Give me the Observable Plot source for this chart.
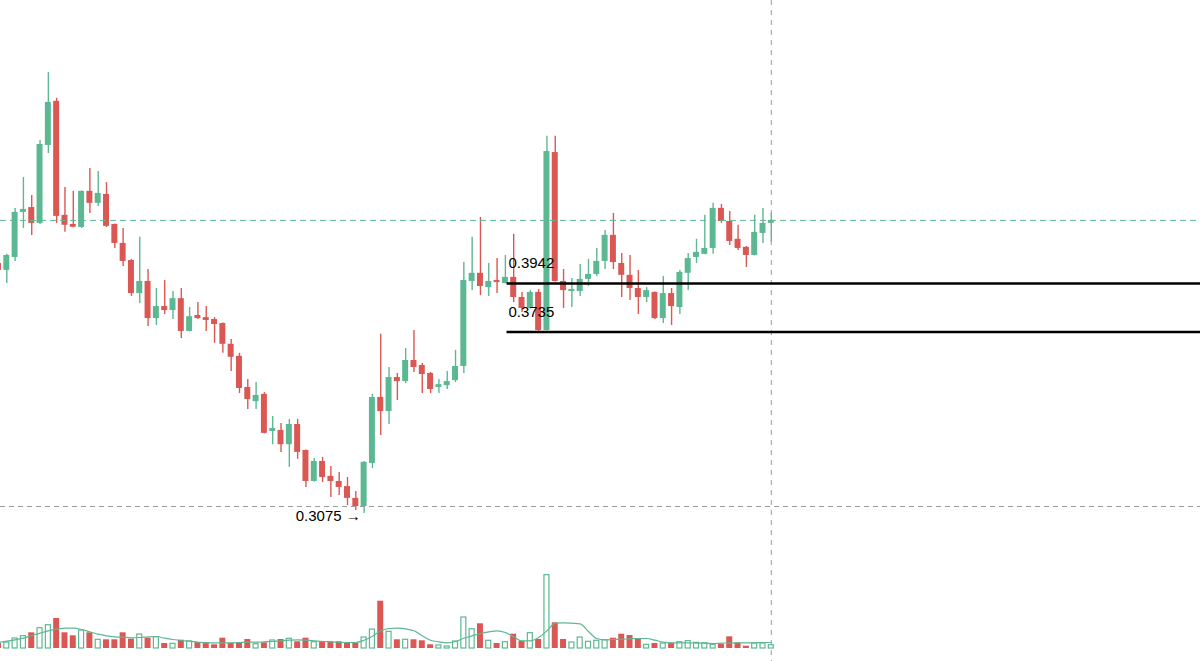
<!DOCTYPE html>
<html><head><meta charset="utf-8">
<script src="https://cdn.jsdelivr.net/npm/d3@7"></script>
<script src="https://cdn.jsdelivr.net/npm/@observablehq/plot@0.6"></script>
<style>
html,body{margin:0;padding:0;background:#fff;}
#wrap{position:relative;width:1200px;height:661px;overflow:hidden;background:#fff;}
#wrap svg{position:absolute;left:0;top:0;}
</style></head><body><div id="wrap"></div>
<script>
// Bar index (first bar is partly cut off at the left edge)
const barIndex = d3.range(-1, 93);
const open = [.4031,.4000,.4058,.4267,.4290,.4215,.4597,.4829,.4253,.4210,.4196,.4368,.4310,.4353,.4210,.4122,.4044,.3898,.3951,.3791,.3842,.3825,.3876,.3737,.3804,.3795,.3787,.3770,.3684,.3635,.3511,.3456,.3484,.3343,.3347,.3294,.3369,.3273,.3162,.3233,.3180,.3162,.3144,.3103,.3075,.3226,.3472,.3418,.3550,.3534,.3618,.3598,.3566,.3511,.3518,.3538,.3594,.3951,.3987,.3924,.3955,.3942,.3969,.3881,.3834,.3903,.3741,.4561,.3951,.3907,.3907,.3960,.3982,.4040,.4159,.4031,.3978,.3920,.3881,.3903,.3791,.3898,.3838,.3987,.4058,.4072,.4099,.4286,.4224,.4141,.4104,.4067,.4168,.4215];
const high = [.4040,.4072,.4286,.4436,.4348,.4623,.4987,.4845,.4387,.4368,.4370,.4481,.4466,.4411,.4212,.4191,.4049,.4150,.4004,.3920,.3955,.3907,.3920,.3838,.3859,.3842,.3795,.3772,.3704,.3647,.3542,.3530,.3491,.3399,.3373,.3388,.3388,.3275,.3244,.3248,.3215,.3194,.3176,.3127,.3233,.3484,.3725,.3590,.3566,.3667,.3741,.3606,.3570,.3542,.3574,.3659,.4035,.4150,.4243,.4031,.4053,.4067,.4164,.3903,.3911,.3916,.4644,.4644,.4004,.3964,.4026,.4049,.4099,.4182,.4262,.4076,.4067,.4000,.3924,.3905,.3973,.3920,.4000,.4076,.4141,.4253,.4310,.4305,.4271,.4206,.4108,.4253,.4286,.4262];
const low = [.3991,.3942,.4040,.4191,.4159,.4210,.4556,.4215,.4173,.4194,.4191,.4262,.4295,.4196,.4099,.4017,.3885,.3855,.3758,.3762,.3808,.3787,.3708,.3735,.3787,.3737,.3688,.3647,.3574,.3487,.3426,.3426,.3334,.3294,.3266,.3212,.3241,.3141,.3160,.3158,.3106,.3113,.3078,.3061,.3051,.3208,.3328,.3369,.3460,.3526,.3570,.3487,.3487,.3487,.3503,.3530,.3566,.3911,.3889,.3885,.3898,.3940,.3859,.3817,.3832,.3729,.3739,.3949,.3834,.3838,.3885,.3929,.3973,.4004,.4004,.3881,.3868,.3808,.3859,.3787,.3770,.3762,.3808,.3911,.4031,.4070,.4072,.4215,.4113,.4090,.4013,.4065,.4122,.4127];
const close = [.4000,.4067,.4267,.4281,.4215,.4602,.4823,.4248,.4206,.4197,.4368,.4310,.4358,.4201,.4122,.4040,.3898,.3951,.3791,.3842,.3825,.3876,.3737,.3799,.3791,.3783,.3766,.3684,.3631,.3507,.3464,.3480,.3336,.3354,.3294,.3369,.3266,.3162,.3233,.3176,.3162,.3141,.3103,.3075,.3230,.3472,.3418,.3550,.3534,.3618,.3590,.3562,.3503,.3522,.3534,.3594,.3955,.3987,.3929,.3951,.3946,.3969,.3881,.3834,.3903,.3741,.4566,.3951,.3911,.3916,.3960,.3982,.4040,.4159,.4035,.3978,.3920,.3881,.3911,.3791,.3898,.3842,.3991,.4053,.4081,.4099,.4286,.4224,.4131,.4099,.4067,.4173,.4215,.4229];
const volume = [5,6,10,12.3,15.7,20.3,23.3,30,15.7,12.7,18,15.7,8.7,8.7,8.7,15.7,9.3,14,10.3,11.3,5,4.7,8.3,7,6,5.7,3.7,10.3,5.3,5.3,9,4.3,5.7,8,9,9.7,6.7,10.3,6.3,6.7,6.7,6.7,5.3,5.3,11,19,47.3,16.7,8.7,8.7,8.7,7.7,3.7,3,2,7,31,19.3,24.7,7.7,5,6.3,14.3,7,15.3,9,73.3,25.7,9,6,11,6.7,7.7,8.3,10.3,14.3,13,9,3.7,5,5,5.3,6.3,7.3,5.7,5.3,3.7,4.3,11.7,5.7,2.3,5,5,3.3];
const volumeMA = [6.3,7.3,8.7,10.3,13,15.3,17.7,19.3,20.3,20.3,19,16.7,14.3,12.7,11.7,11.3,10.7,11,11.7,12,10.3,9,8,7.3,6.3,5.7,5.7,5.7,5.7,6,6.3,6.3,6.7,7,7.7,8.3,8.7,8.3,7.7,7,6.7,6.3,6,6,8.3,12.3,17.7,20,20.3,19.7,17.7,12.7,8.3,6.7,5.7,7,10.3,12.7,15,16.7,17.7,16,11.7,7.7,7.7,11,17.7,25.3,25.7,25.3,24.7,17,10,8.7,9,9.3,9.7,10,10,8.3,6.3,5.7,5.7,5.7,5.3,5.3,5,5.3,5.7,5.7,5.7,5.7,6,6];

// Annotations
const levels = [0.3942, 0.3735];
const levelStartBar = 60;
const lowLevel = 0.3075;
const lowBar = 42;
const lastBar = 92;
const lastClose = close[close.length - 1];

const bars = barIndex.map((i, k) => ({
  i, open: open[k], high: high[k], low: low[k], close: close[k],
  volume: volume[k], ma: volumeMA[k], up: close[k] >= open[k]
}));

const GREEN = "#5cb892", RED = "#db5753", GRAY = "#9b9b9b";
const FONT = "'Liberation Sans', Arial, Helvetica, sans-serif";
const xOpts = {type: "linear", domain: [0, 92], range: [6.3, 770.8], axis: null};

const price = Plot.plot({
  width: 1200, height: 661, margin: 0,
  style: {background: "transparent", fontFamily: FONT, overflow: "visible"},
  x: xOpts,
  y: {type: "log", domain: [0.3075, 0.3942], range: [506, 283], axis: null},
  marks: [
    Plot.ruleX(bars, {x: "i", y1: "low", y2: "high", stroke: d => d.up ? GREEN : RED, strokeWidth: 1.4}),
    Plot.rect(bars, {x1: d => d.i - 0.36, x2: d => d.i + 0.36, y1: "open", y2: "close", fill: d => d.up ? GREEN : RED}),
    Plot.ruleY([lowLevel], {stroke: GRAY, strokeDasharray: "5,4", strokeWidth: 1}),
    Plot.ruleY([lastClose], {stroke: GREEN, strokeDasharray: "6,4", strokeWidth: 1}),
    Plot.ruleX([lastBar], {stroke: GRAY, strokeDasharray: "5,5", strokeWidth: 1}),
    Plot.ruleY(levels, {y: d => d, x1: levelStartBar + 0.2, x2: 150, stroke: "#000", strokeWidth: 2.5}),
    Plot.text(levels, {x: levelStartBar, y: d => d, text: d => d.toFixed(4), dy: -20, dx: 3, textAnchor: "start", fontSize: 15, fill: "#000"}),
    Plot.text([lowLevel], {x: lowBar, y: d => d, text: d => d.toFixed(4) + " \u2192", dy: 10, dx: 5, textAnchor: "end", fontSize: 15, fill: "#000"})
  ]
});

const vol = Plot.plot({
  width: 1200, height: 661, margin: 0,
  style: {background: "transparent", overflow: "visible"},
  x: xOpts,
  y: {domain: [0, 75], range: [648, 573], axis: null},
  marks: [
    Plot.rect(bars.filter(d => !d.up), {x1: d => d.i - 0.36, x2: d => d.i + 0.36, y1: 0, y2: "volume", fill: RED}),
    Plot.line(bars, {x: "i", y: "ma", stroke: GREEN, strokeWidth: 1.2, curve: "monotone-x"}),
    Plot.rect(bars.filter(d => d.up), {x1: d => d.i - 0.3, x2: d => d.i + 0.3, y1: 0, y2: "volume", fill: "none", stroke: GREEN, strokeWidth: 1.2})
  ]
});

const wrap = document.getElementById("wrap");
wrap.appendChild(vol);
wrap.appendChild(price);
</script></body></html>
